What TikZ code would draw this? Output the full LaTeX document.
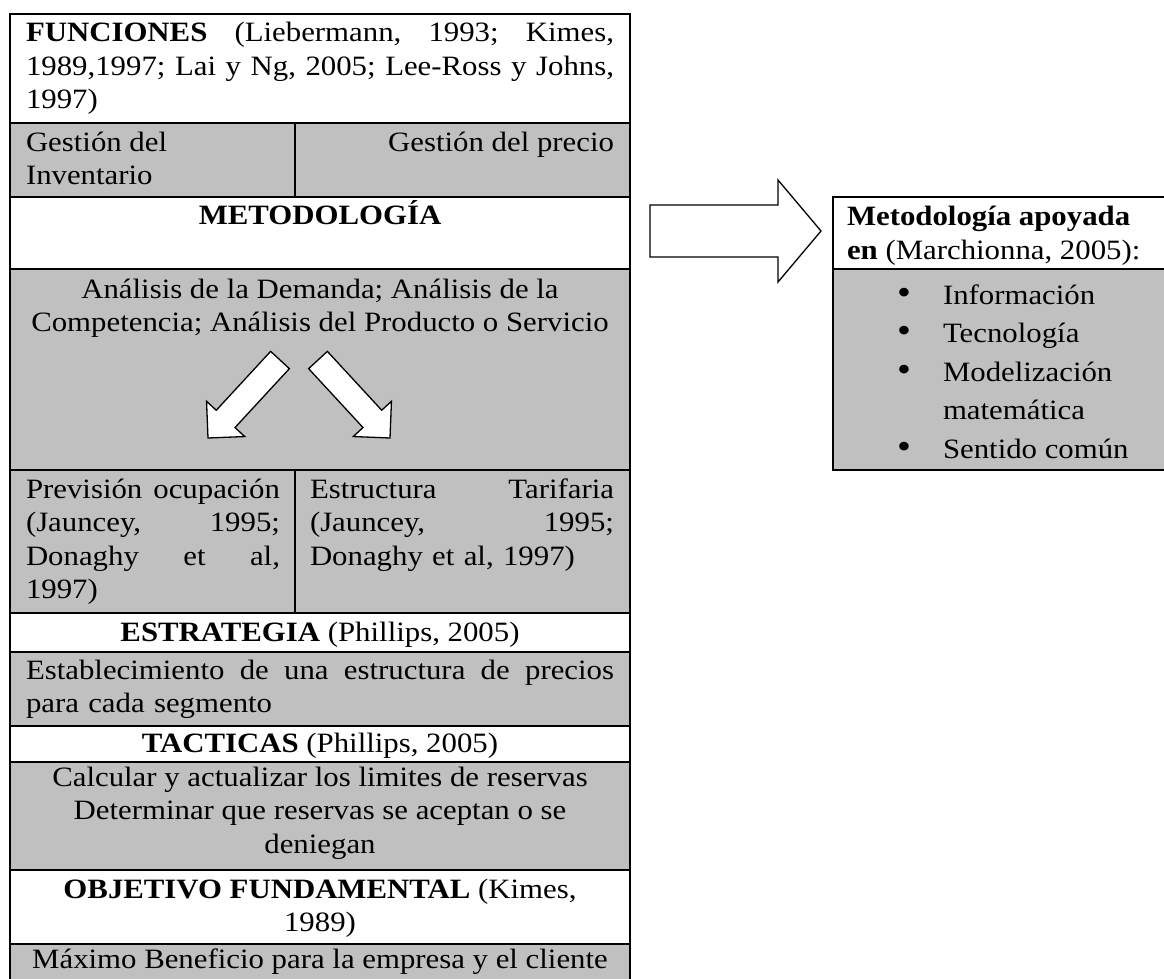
\documentclass[tikz,border=0pt]{standalone}
\usepackage{fontspec}
\setmainfont{Liberation Serif}[FakeStretch=1.1]
\definecolor{cellgray}{RGB}{192,192,192}
\newcommand{\fsz}{\fontsize{28}{33.5}\selectfont}
\newcommand{\ts}{\rule{0pt}{30pt}}
\newcommand{\bul}{\makebox[46pt][l]{\fontsize{36}{36}\selectfont\textbullet}}
\begin{document}
\begin{tikzpicture}[x=1pt,y=-1pt,
  cellw/.style={draw=black, line width=1.6pt, fill=white, inner sep=0pt, outer sep=0pt, anchor=north west},
  cellg/.style={cellw, fill=cellgray},
  txt/.style={inner sep=0pt, outer sep=0pt, font=\fsz},
  blockarrow/.style={draw=black, line width=1.3pt, fill=white, line join=miter}
]
\clip (0,0) rectangle (1164,979);
\fill[white] (0,0) rectangle (1164,979);

% left table cells
\node[cellw, minimum width=620pt, minimum height=109pt] (funciones) at (10,14) {};
\node[cellg, minimum width=285pt, minimum height=74pt] (inventario) at (10,123) {};
\node[cellg, minimum width=335pt, minimum height=74pt] (precio) at (295,123) {};
\node[cellw, minimum width=620pt, minimum height=72pt] (metodologia) at (10,197) {};
\node[cellg, minimum width=620pt, minimum height=201pt] (analisis) at (10,269) {};
\node[cellg, minimum width=285pt, minimum height=143pt] (prevision) at (10,470) {};
\node[cellg, minimum width=335pt, minimum height=143pt] (tarifa) at (295,470) {};
\node[cellw, minimum width=620pt, minimum height=39pt] (estrategia) at (10,613) {};
\node[cellg, minimum width=620pt, minimum height=74pt] (establec) at (10,652) {};
\node[cellw, minimum width=620pt, minimum height=36pt] (tacticas) at (10,726) {};
\node[cellg, minimum width=620pt, minimum height=108pt] (calcular) at (10,762) {};
\node[cellw, minimum width=620pt, minimum height=74pt] (objetivo) at (10,870) {};
\node[cellg, minimum width=620pt, minimum height=70pt] (maximo) at (10,944) {};

% right box
\node[cellw, minimum width=360pt, minimum height=72pt] (apoyo) at (833,197) {};
\node[cellg, minimum width=360pt, minimum height=201pt] (apoyolist) at (833,269) {};

% texts
\node[txt, anchor=north west, text width=588pt, align=left] (funciones-t) at (26,12)
  {\ts\textbf{FUNCIONES}\hfill(Liebermann,\hfill 1993;\hfill Kimes,\\1989,1997;\hfill Lai\hfill y\hfill Ng,\hfill 2005;\hfill Lee-Ross\hfill y\hfill Johns,\\1997)};
\node[txt, anchor=north west, align=left] (inventario-t) at (26,121) {\ts Gestión del\\Inventario};
\node[txt, anchor=north east, align=right] (precio-t) at (614,121) {\ts Gestión del precio};
\node[txt, anchor=north] (metodologia-t) at (320,194) {\ts\textbf{METODOLOGÍA}};
\node[txt, anchor=north, align=center] (analisis-t) at (320,268)
  {\ts Análisis de la Demanda; Análisis de la\\Competencia; Análisis del Producto o Servicio};
\node[txt, anchor=north west, text width=254pt, align=left] (prevision-t) at (26,468)
  {\ts Previsión\hfill ocupación\\(Jauncey,\hfill 1995;\\Donaghy\hfill et\hfill al,\\1997)};
\node[txt, anchor=north west, text width=304pt, align=left] (tarifa-t) at (310,468)
  {\ts Estructura\hfill Tarifaria\\(Jauncey,\hfill 1995;\\Donaghy et al, 1997)};
\node[txt, anchor=north] (estrategia-t) at (320,611) {\ts\textbf{ESTRATEGIA} (Phillips, 2005)};
\node[txt, anchor=north west, text width=588pt, align=left] (establec-t) at (26,649)
  {\ts Establecimiento\hfill de\hfill una\hfill estructura\hfill de\hfill precios\\para cada segmento};
\node[txt, anchor=north] (tacticas-t) at (320,722) {\ts\textbf{TACTICAS} (Phillips, 2005)};
\node[txt, anchor=north, align=center] (calcular-t) at (320,756)
  {\ts Calcular y actualizar los limites de reservas\\Determinar que reservas se aceptan o se\\deniegan};
\node[txt, anchor=north, align=center] (objetivo-t) at (320,868)
  {\ts\textbf{OBJETIVO FUNDAMENTAL} (Kimes,\\1989)};
\node[txt, anchor=north] (maximo-t) at (320,938) {\ts Máximo Beneficio para la empresa y el cliente};

\node[txt, anchor=north west, align=left] (apoyo-t) at (847,195.5)
  {\ts\textbf{Metodología apoyada}\\\textbf{en} (Marchionna, 2005):};
\node[txt, anchor=north west, align=left, font=\fontsize{28}{38.5}\selectfont] (apoyolist-t) at (897,274)
  {\ts\bul Información\\\bul Tecnología\\\bul Modelización\\\hspace*{46pt}matemática\\\bul Sentido común};

% block arrows
\draw[blockarrow] (270.63,351.35) -- (216.27,410.25) -- (206.54,401.26) -- (208,438) -- (244.74,436.54) -- (235.01,427.55) -- (289.37,368.65) -- cycle;
\draw[blockarrow] (327.37,351.35) -- (381.73,410.25) -- (391.46,401.26) -- (390,438) -- (353.26,436.54) -- (362.99,427.55) -- (308.63,368.65) -- cycle;
\draw[blockarrow] (650,205) -- (778,205) -- (778,180) -- (821,231) -- (778,282) -- (778,257) -- (650,257) -- cycle;
\end{tikzpicture}
\end{document}
